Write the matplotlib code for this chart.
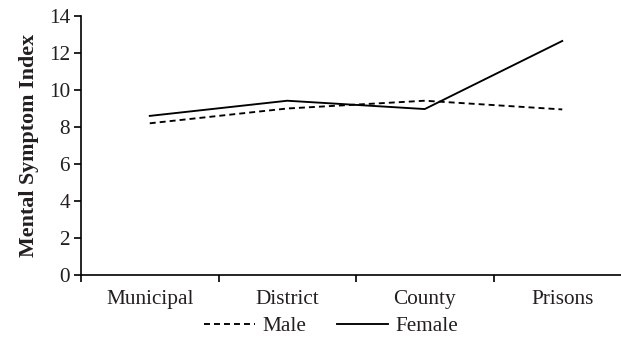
import matplotlib
matplotlib.use("Agg")
import matplotlib.pyplot as plt
import numpy as np

categories = ["Municipal", "District", "County", "Prisons"]
male = [8.2, 9.0, 9.42, 8.95]
female = [8.6, 9.42, 8.97, 12.65]
yticks = [0, 2, 4, 6, 8, 10, 12, 14]

plt.rcParams['font.family'] = ['Liberation Serif', 'DejaVu Serif']
plt.rcParams['lines.scale_dashes'] = False
txt = '#231f20'

fig = plt.figure(figsize=(6.21, 3.41), dpi=100)
ax = fig.add_axes([81/621, 1-275/341, 550/621, 259/341])
x = np.arange(len(categories))
ax.plot(x, male, color='black', lw=1.35, dashes=(4.3, 2.9), label='Male')
ax.plot(x, female, color='black', lw=1.35, label='Female')

ax.set_xlim(-0.5, 3.5)
ax.set_ylim(0, 14)
ax.set_yticks(yticks)
ax.set_xticks(x)
ax.set_xticklabels(categories)
ax.set_xticks(np.arange(-0.5, 4, 1), minor=True)
ax.tick_params(axis='x', which='major', length=0, pad=11, labelsize=15.3, labelcolor=txt)
ax.tick_params(axis='x', which='minor', length=5, width=1.2, direction='out')
ax.tick_params(axis='y', length=5, width=1.2, direction='out', labelsize=15.3, labelcolor=txt, pad=3)
for s in ['top', 'right']:
    ax.spines[s].set_visible(False)
for s in ['left', 'bottom']:
    ax.spines[s].set_linewidth(1.2)
ax.set_ylabel('Mental Symptom Index', fontsize=15.8, fontweight='bold', color=txt, labelpad=7)

fig.legend(loc='center', bbox_to_anchor=(331/621, 1-326/341), ncol=2, frameon=False,
           fontsize=15.3, handlelength=2.4, handletextpad=0.35, columnspacing=1.45,
           labelcolor=txt)

fig.savefig('out.png', dpi=100)
